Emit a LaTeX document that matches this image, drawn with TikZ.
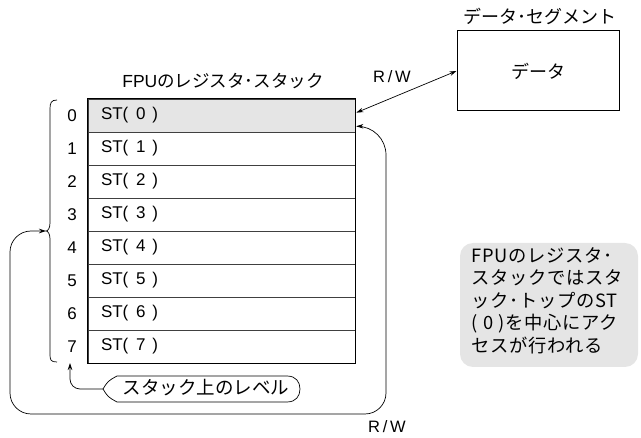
\documentclass[tikz,border=0pt]{standalone}
\usepackage{fontspec}
\setmainfont{Liberation Sans}
\newfontfamily\jp{Noto Sans CJK JP}
\newfontfamily\jpsp[LetterSpace=4]{Noto Sans CJK JP}
\usetikzlibrary{arrows.meta,calc}
\definecolor{lightgray}{gray}{0.90}
\begin{document}
\begin{tikzpicture}[x=1pt,y=-1pt,
  line width=0.7pt,
  tip/.style={-{Stealth[length=7pt,width=4.5pt]}},
  dtip/.style={{Stealth[length=7pt,width=4.5pt]}-{Stealth[length=7pt,width=4.5pt]}},
  rowbox/.style={draw=black!75, line width=0.7pt, minimum height=33pt, text width=241pt,
     inner xsep=13pt, inner ysep=0pt, align=left, font=\fontsize{17}{19}\selectfont},
  numlbl/.style={font=\fontsize{17}{19}\selectfont, inner sep=0pt},
  jplbl/.style={font=\jp\fontsize{18}{21}\selectfont, inner sep=0pt}
]
\useasboundingbox (0,0) rectangle (641,438);

% stack rows
\foreach \i in {0,...,7} {
  \pgfmathsetmacro{\yc}{99+33*\i+16.5}
  \ifnum\i=0
    \node[rowbox, fill=lightgray] (st\i) at (221.5,\yc) {ST(\hspace{0.45em}\i\hspace{0.4em})};
  \else
    \node[rowbox] (st\i) at (221.5,\yc) {ST(\hspace{0.45em}\i\hspace{0.4em})};
  \fi
  \node[numlbl] (n\i) at (72,\yc) {\i};
}
\draw[line width=1.3pt] (st0.north west) rectangle (st7.south east);

% title
\node[inner sep=0pt, font=\fontsize{17.5}{20}\selectfont] (title) at (223,81) {FPU{\jp のレジスタ･スタック}};

% brace
\coordinate (bracetip) at (46,231);
\draw (57,100) .. controls (51,100) and (50,103) .. (50,109) -- (50,223)
  .. controls (50,228) and (48,231) .. (bracetip)
  .. controls (48,231) and (50,234) .. (50,239) -- (50,355)
  .. controls (50,360) and (51,362) .. (57,362);

% data segment
\node[draw, line width=1pt, minimum width=162pt, minimum height=80pt, jplbl] (data) at (538,71) {データ};
\node[jplbl] (seg) at (540,16) {データ･セグメント};

% R/W to data
\coordinate (st0a) at ($(st0.north east)+(1,14)$);
\draw[dtip] (st0a) -- (data.west);
\node[font=\fontsize{16.5}{18}\selectfont, inner sep=0pt] (rw1) at (392,77) {R\,/\,W};

% loop
\coordinate (st0b) at ($(st0.south east)+(1,-6)$);
\draw[dtip] (bracetip) [rounded corners=21] -- (10,231) -- (10,414) -- (386,414) [rounded corners=29] -- (386,126) -- (st0b);
\node[font=\fontsize{16.5}{18}\selectfont, inner sep=0pt] (rw2) at (387,427) {R\,/\,W};

% level bubble
\node[jplbl, font=\jp\fontsize{18.5}{21}\selectfont] (lvl) at (206,388) {スタック上のレベル};
\coordinate (lvlpt) at (103,389);
\draw (lvlpt) .. controls (108,381) .. (117,376) -- (287,376)
  .. controls (296,376) and (300,382) .. (300,389)
  .. controls (300,396) and (296,402) .. (287,402) -- (117,402)
  .. controls (108,397) .. (lvlpt);
\coordinate (lvltarget) at (70,363);
\draw[tip, rounded corners=10] (lvlpt) -- (70,389) -- (lvltarget);

% note
\node[fill=lightgray, rounded corners=13, minimum width=178pt, minimum height=124pt, inner sep=0pt] (notebox) at (549,305) {};
\node[anchor=north west, inner sep=0pt, align=left, font=\jpsp\fontsize{18.3}{22.5}\selectfont] (note) at (471,247)
 {FPUのレジスタ･\\スタックではスタ\\ック･トップのST\\(\hspace{0.3em}0\hspace{0.3em})を中心にアク\\セスが行われる};
\end{tikzpicture}
\end{document}
